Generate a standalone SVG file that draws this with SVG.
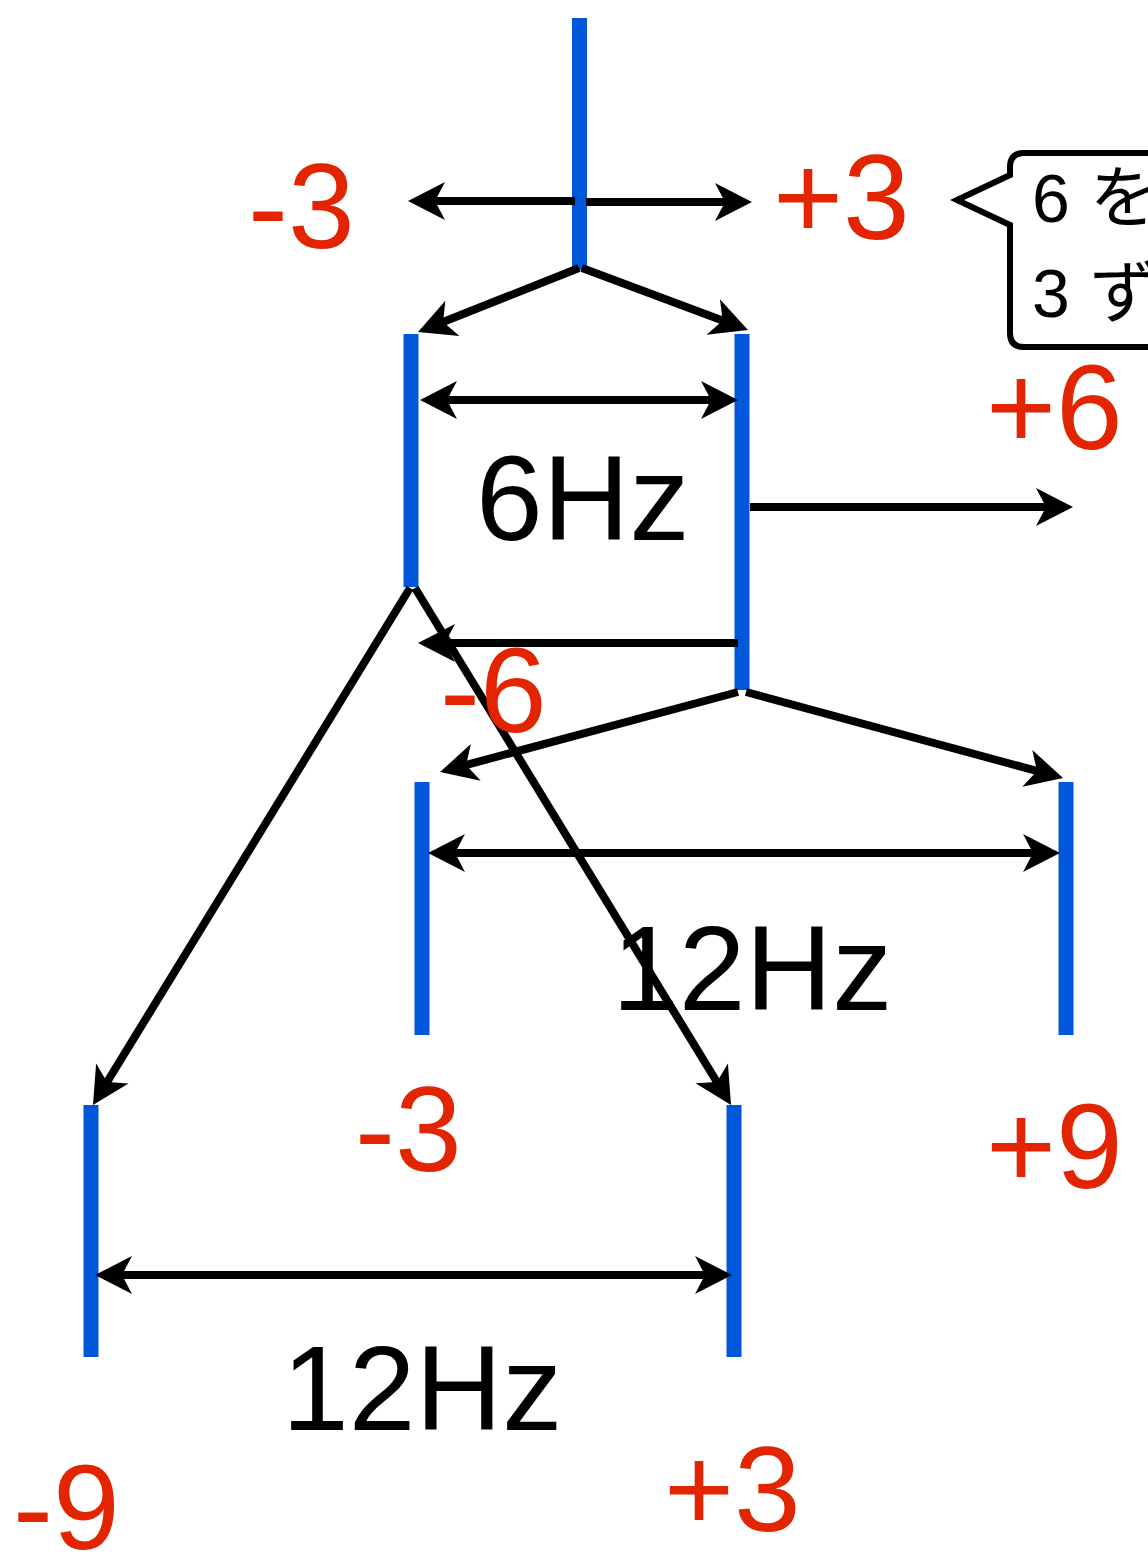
<svg xmlns="http://www.w3.org/2000/svg" width="1148" height="1557" viewBox="0 0 1148 1557">
<style>
.bar{stroke:#0057d9;stroke-width:15;fill:none}
.ln{stroke:#000;stroke-width:8;fill:none}
.co{stroke:#000;stroke-width:6;fill:none}
.red{fill:#e32400;font-family:"Liberation Sans",Arial,sans-serif;font-size:120px}
.blk{fill:#000;font-family:"Liberation Sans",Arial,sans-serif;font-size:120px}
.cj{fill:#000;font-family:"Liberation Sans","Noto Sans CJK JP",sans-serif;font-size:68px}
</style>
<defs>
<marker id="ah" markerUnits="userSpaceOnUse" viewBox="-32 -22 46 44" refX="0" refY="0" markerWidth="46" markerHeight="44" orient="auto-start-reverse">
<path d="M10,0 L-27,-19 L-17,0 L-27,19 Z" fill="#000"/>
</marker>
</defs>
<rect width="1148" height="1557" fill="#fff"/>
<g id="bars">
<g id="b0"><line class="bar" x1="579.5" y1="18" x2="579.5" y2="270"/></g>
<g id="b1"><line class="bar" x1="411" y1="334" x2="411" y2="587"/></g>
<g id="b2"><line class="bar" x1="742" y1="334" x2="742" y2="690"/></g>
<g id="b3"><line class="bar" x1="422" y1="782" x2="422" y2="1035"/></g>
<g id="b4"><line class="bar" x1="1066" y1="782" x2="1066" y2="1035"/></g>
<g id="b5"><line class="bar" x1="91" y1="1105" x2="91" y2="1357"/></g>
<g id="b6"><line class="bar" x1="734" y1="1105" x2="734" y2="1357"/></g>
</g>
<g id="connectors">
<line class="ln" x1="575" y1="201" x2="418" y2="201" marker-end="url(#ah)"/>
<line class="ln" x1="586" y1="202" x2="742" y2="202" marker-end="url(#ah)"/>
<line class="ln" x1="579" y1="268" x2="427.3" y2="328.3" marker-end="url(#ah)"/>
<line class="ln" x1="582" y1="268" x2="738.6" y2="326.5" marker-end="url(#ah)"/>
<line class="ln" x1="430" y1="400" x2="728" y2="400" marker-start="url(#ah)" marker-end="url(#ah)"/>
<line class="ln" x1="750" y1="507" x2="1063" y2="507" marker-end="url(#ah)"/>
<line class="ln" x1="738" y1="643" x2="428" y2="643" marker-end="url(#ah)"/>
<line class="ln" x1="738" y1="692" x2="449.7" y2="769.4" marker-end="url(#ah)"/>
<line class="ln" x1="746" y1="692" x2="1053.4" y2="775.4" marker-end="url(#ah)"/>
<line class="ln" x1="438" y1="853" x2="1050" y2="853" marker-start="url(#ah)" marker-end="url(#ah)"/>
<line class="ln" x1="410" y1="588" x2="98.2" y2="1096.5" marker-end="url(#ah)"/>
<line class="ln" x1="415" y1="588" x2="725.8" y2="1096.5" marker-end="url(#ah)"/>
<line class="ln" x1="105" y1="1275" x2="722" y2="1275" marker-start="url(#ah)" marker-end="url(#ah)"/>
</g>
<g id="labels">
<text class="red" x="248" y="248">-3</text>
<text class="red" x="773" y="239">+3</text>
<text class="blk" x="476" y="540">6Hz</text>
<text class="red" x="986" y="449">+6</text>
<text class="red" x="440" y="732">-6</text>
<text class="blk" x="612" y="1010">12Hz</text>
<text class="red" x="355" y="1171">-3</text>
<text class="red" x="986" y="1188">+9</text>
<text class="blk" x="282" y="1430">12Hz</text>
<text class="red" x="13" y="1549">-9</text>
<text class="red" x="664" y="1531">+3</text>
</g>
<g id="callout">
<path class="co" d="M1160,153 L1024,153 Q1010,153 1010,167 L1010,175 L957,200 L1010,225 L1010,333 Q1010,347 1024,347 L1160,347"/>
<text class="cj" x="1032" y="222">6<tspan dx="20">を</tspan></text>
<text class="cj" x="1032" y="317">3<tspan dx="20">ず</tspan></text>
</g>
</svg>
